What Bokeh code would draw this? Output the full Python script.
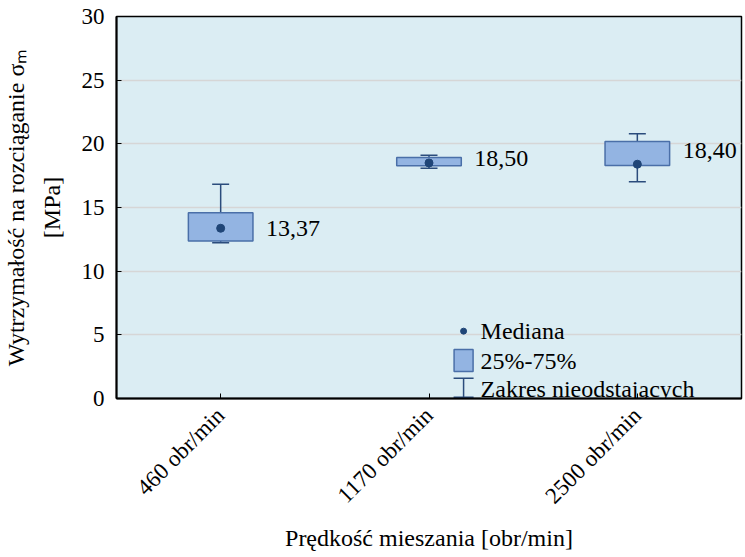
import math
from bokeh.plotting import figure
from bokeh.models import FixedTicker, Label, ColumnDataSource
from bokeh.core.properties import value
from bokeh.embed import file_html
from bokeh.resources import INLINE

# ---- data ----
categories = ["460 obr/min", "1170 obr/min", "2500 obr/min"]
median = [13.37, 18.50, 18.40]
q1 = [12.36, 18.28, 18.30]
q3 = [14.59, 18.93, 20.19]
wmin = [12.23, 18.09, 17.02]
wmax = [16.83, 19.11, 20.79]
value_labels = ["13,37", "18,50", "18,40"]
y_ticks = [0, 5, 10, 15, 20, 25, 30]
legend_labels = ["Mediana", "25%-75%", "Zakres nieodstających"]

# ---- style ----
FONT = "'Liberation Serif', 'Times New Roman', Times, serif"
BG = "#dbedf3"
BOX_FILL = "#93b4e2"
BOX_LINE = "#4a6fa8"
DOT = "#1f4577"
WHISK = "#2b4c7c"
BOX_W = 0.31

xpos = [i + 0.5 for i in range(len(categories))]

p = figure(frame_width=625, frame_height=382, x_range=(0, len(categories)), y_range=(0, 30),
           output_backend="svg", toolbar_location=None,
           min_border_left=110, min_border_right=2, min_border_top=16, min_border_bottom=130)
p.background_fill_color = BG
p.border_fill_color = "white"
p.outline_line_color = "black"
p.outline_line_width = 1.5

src = ColumnDataSource(dict(x=xpos, med=median, q1=q1, q3=q3, lo=wmin, hi=wmax))

# whiskers
p.segment(x0="x", y0="lo", x1="x", y1="hi", source=src, line_color=WHISK, line_width=1.5)
p.scatter(x="x", y="lo", source=src, marker="dash", size=17, line_color=WHISK, line_width=1.5)
p.scatter(x="x", y="hi", source=src, marker="dash", size=17, line_color=WHISK, line_width=1.5)
# boxes
p.vbar(x="x", width=BOX_W, bottom="q1", top="q3", source=src,
       fill_color=BOX_FILL, line_color=BOX_LINE, line_width=1.5)
# medians
p.scatter(x="x", y="med", source=src, size=8, fill_color=DOT, line_color=DOT)
# value labels
lab_src = ColumnDataSource(dict(x=[x + BOX_W / 2 for x in xpos], y=median, t=value_labels,
                                yo=[0, -4, -14]))
p.text(x="x", y="y", text="t", source=lab_src, x_offset=13, y_offset="yo",
       text_font=value(FONT), text_baseline="middle", text_align="left",
       text_font_size="24px", text_color="black")

# ---- axes ----
p.xaxis.ticker = FixedTicker(ticks=xpos)
p.xaxis.major_label_overrides = {x: c for x, c in zip(xpos, categories)}
p.xaxis.major_label_orientation = math.pi / 4
p.yaxis.ticker = FixedTicker(ticks=y_ticks)
for ax in (p.xaxis, p.yaxis):
    ax.major_tick_in = 5
    ax.major_tick_out = 0
    ax.minor_tick_line_color = None
    ax.major_tick_line_color = "black"
    ax.axis_line_color = "black"
    ax.axis_line_width = 2
    ax.major_label_text_font = FONT
    ax.major_label_text_font_size = "23px"
    ax.major_label_text_color = "black"
    ax.axis_label_text_font = FONT
    ax.axis_label_text_font_size = "24px"
    ax.axis_label_text_font_style = "normal"
    ax.axis_label_text_color = "black"
p.yaxis.major_label_standoff = 12
p.xaxis.major_label_standoff = 13
p.xaxis.axis_label = "Prędkość mieszania [obr/min]"
p.yaxis.axis_label = "Wytrzymałość na rozciąganie σₘ\n[MPa]"
p.yaxis.axis_label_text_line_height = 1.35
p.xaxis.axis_label_standoff = 5
p.yaxis.axis_label_standoff = 14

p.xgrid.grid_line_color = None
p.ygrid.grid_line_color = "#d6d6d6"
p.ygrid.grid_line_width = 1.5

# ---- legend (custom, layout constants) ----
LX = 1.666
rows = [5.29, 2.98, 0.75]
p.scatter(x=[LX], y=[rows[0]], size=6, fill_color=DOT, line_color=DOT)
p.rect(x=[LX], y=[rows[1]], width=19, height=22, width_units="screen", height_units="screen",
       fill_color=BOX_FILL, line_color=BOX_LINE, line_width=1.5)
p.segment(x0=[LX], y0=[0.1], x1=[LX], y1=[1.6], line_color=WHISK, line_width=1.5)
p.scatter(x=[LX, LX], y=[0.1, 1.6], marker="dash", size=20, line_color=WHISK, line_width=1.5)
for txt, ry in zip(legend_labels, rows):
    p.add_layout(Label(x=LX, y=ry, x_offset=17, text=txt, text_font=FONT,
                       text_font_size="24px", text_baseline="middle", text_color="black"))

open("out.html", "w").write(file_html(p, INLINE))
